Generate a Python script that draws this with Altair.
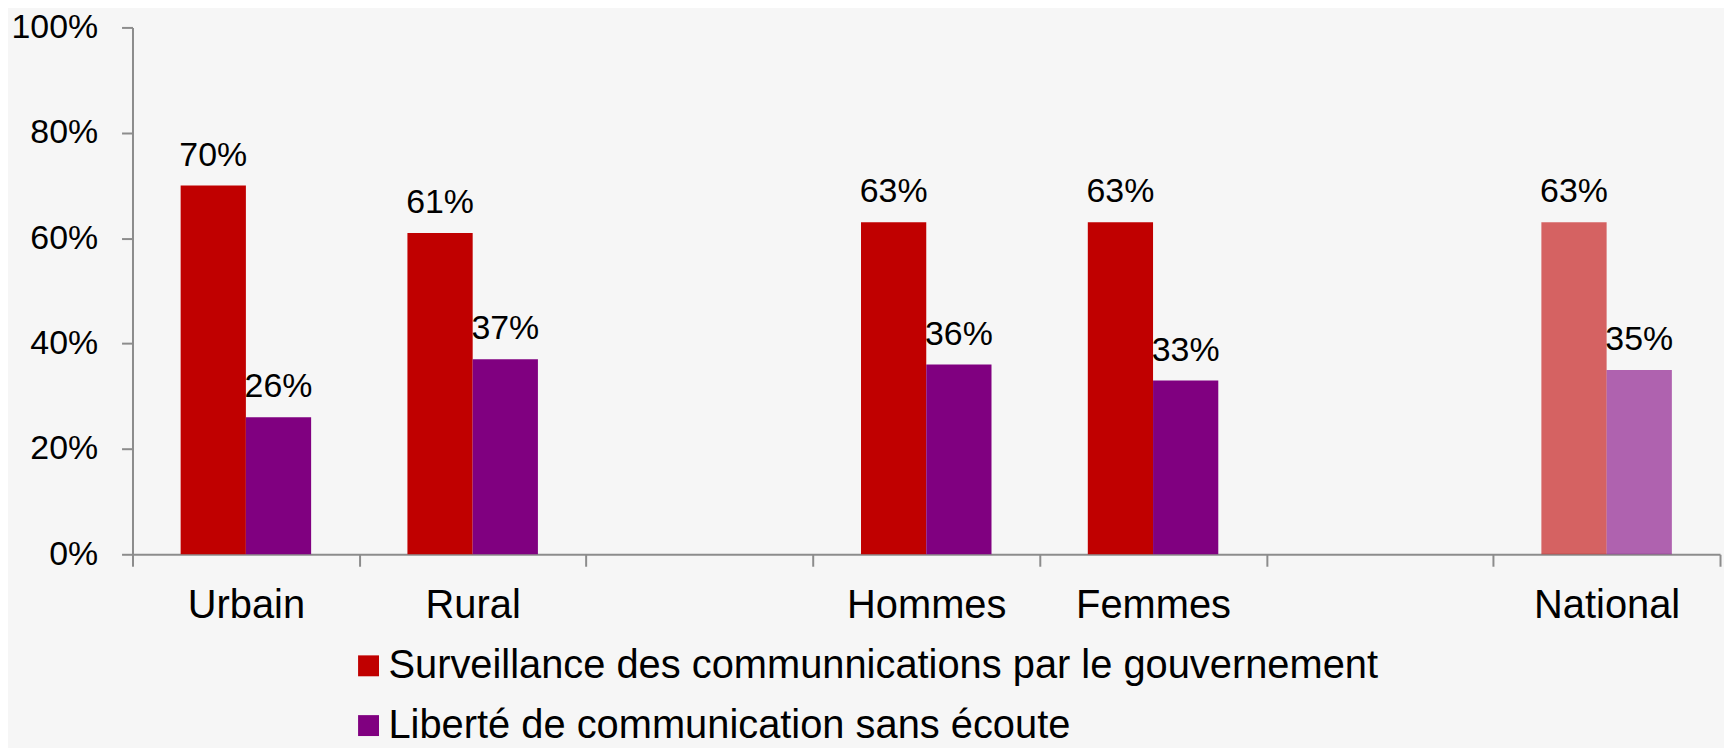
import altair as alt
import pandas as pd

categories = ["Urbain", "Rural", " ", "Hommes", "Femmes", "  ", "National"]
surveillance = [70, 61, None, 63, 63, None, 63]
liberte = [26, 37, None, 36, 33, None, 35]
series = [
    "Surveillance des communnications par le gouvernement",
    "Liberté de communication sans écoute",
]
colors = ["#C00000", "#800080"]

rows = []
for c, s, l in zip(categories, surveillance, liberte):
    if s is not None:
        rows.append({"cat": c, "serie": series[0], "val": s})
    if l is not None:
        rows.append({"cat": c, "serie": series[1], "val": l})
df = pd.DataFrame(rows)

FONT = "Liberation Sans"
FS_TXT = 40
FS_NUM = 34

x = alt.X(
    "cat:N",
    scale=alt.Scale(domain=categories, paddingInner=0, paddingOuter=0),
    axis=alt.Axis(
        title=None, labelAngle=0, tickBand="extent", tickSize=12,
        labelPadding=19, labelFontSize=FS_TXT, labelFont=FONT, labelColor="#000000",
        domainColor="#8c8c8c", tickColor="#8c8c8c", domainWidth=2, tickWidth=2,
    ),
)
xoff = alt.XOffset(
    "serie:N",
    scale=alt.Scale(domain=series, paddingOuter=0.738, paddingInner=0),
)
y = alt.Y(
    "val:Q",
    scale=alt.Scale(domain=[0, 100], nice=False),
    axis=alt.Axis(
        title=None, values=[0, 20, 40, 60, 80, 100], labelExpr="datum.value + '%'",
        grid=False, tickSize=11, labelPadding=24, labelFontSize=FS_NUM, labelFont=FONT,
        labelColor="#000000", domainColor="#8c8c8c", tickColor="#8c8c8c",
        domainWidth=2, tickWidth=2,
    ),
)

bars = alt.Chart(df).mark_bar(strokeWidth=0).encode(
    x=x,
    xOffset=xoff,
    y=y,
    color=alt.Color(
        "serie:N",
        scale=alt.Scale(domain=series, range=colors),
        legend=alt.Legend(
            title=None, orient="none", legendX=217, legendY=621,
            symbolType="square", symbolSize=441, symbolStrokeWidth=0,
            labelFontSize=FS_TXT, labelFont=FONT, labelColor="#000000",
            labelOffset=0, rowPadding=20, labelLimit=2000, padding=0,
        ),
    ),
    opacity=alt.condition(alt.datum.cat == "National", alt.value(0.6), alt.value(1)),
)

labels = alt.Chart(df).mark_text(
    baseline="alphabetic", dy=-20, fontSize=FS_NUM, font=FONT, color="#000000"
).transform_calculate(
    lab="datum.val + '%'"
).encode(
    x=x,
    xOffset=xoff,
    y=alt.Y("val:Q"),
    text="lab:N",
)

chart = alt.layer(bars, labels).properties(
    width=1594,
    height=529,
    background="#f6f6f6",
    autosize=alt.AutoSizeParams(type="none"),
    padding={"left": 125, "top": 18, "right": 4, "bottom": 193},
).configure_view(stroke=None)

chart.save("out.html", embed_options={"renderer": "svg", "actions": False})
